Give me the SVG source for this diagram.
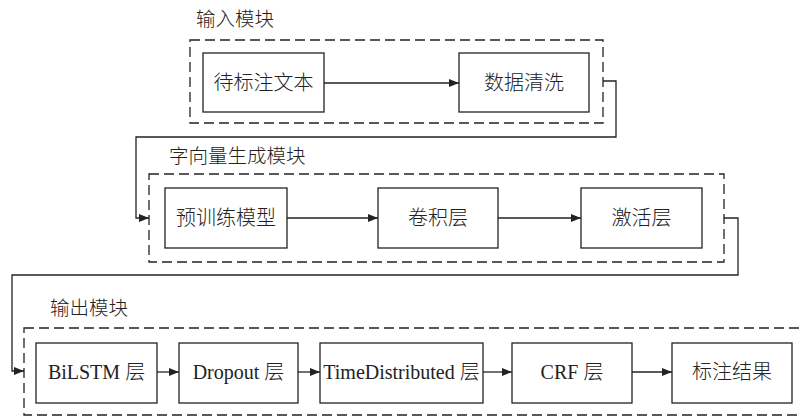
<svg xmlns="http://www.w3.org/2000/svg" width="799" height="416" viewBox="0 0 799 416">
<defs>
<style>
.mod{fill:none;stroke:#222;stroke-width:1.3;stroke-dasharray:10,5}
.box{fill:#fff;stroke:#222;stroke-width:1.3}
.t{font-family:'Noto Sans CJK SC',sans-serif;font-weight:300;font-size:20px;fill:#222;text-anchor:middle}
.lat{font-family:'Liberation Serif','Times New Roman',serif;font-weight:400}
.lbl{font-family:'Noto Sans CJK SC',sans-serif;font-weight:300;font-size:19.5px;fill:#222}
.c{fill:none;stroke:#222;stroke-width:1.3}
</style>
<marker id="ah" viewBox="0 0 10 8" refX="10" refY="4" markerWidth="10" markerHeight="8" markerUnits="userSpaceOnUse" orient="auto">
<path d="M0,0 L10,4 L0,8 Z" fill="#222"/>
</marker>
</defs>
<rect width="799" height="416" fill="#fff"/>

<g id="module-input">
<text class="lbl" x="196" y="26">输入模块</text>
<rect class="mod" x="190" y="40" width="413" height="83"/>
</g>
<g id="module-embed">
<text class="lbl" x="169" y="163">字向量生成模块</text>
<rect class="mod" x="149" y="174" width="575" height="88"/>
</g>
<g id="module-output">
<text class="lbl" x="50" y="315">输出模块</text>
<rect class="mod" x="24" y="328" width="778" height="87"/>
</g>

<g id="connectors">
<path class="c" d="M324,83 H459" marker-end="url(#ah)"/>
<path class="c" d="M603,81 H616 V137 H136 V218 H149" marker-end="url(#ah)"/>
<path class="c" d="M287,218 H378" marker-end="url(#ah)"/>
<path class="c" d="M498,218 H581" marker-end="url(#ah)"/>
<path class="c" d="M724,218 H738 V275 H12 V371 H24" marker-end="url(#ah)"/>
<path class="c" d="M157,372 H179" marker-end="url(#ah)"/>
<path class="c" d="M298,372 H320" marker-end="url(#ah)"/>
<path class="c" d="M483,372 H512" marker-end="url(#ah)"/>
<path class="c" d="M632,372 H672" marker-end="url(#ah)"/>
</g>

<g id="n1"><rect class="box" x="203" y="53" width="121" height="59"/><text class="t" x="263.5" y="90">待标注文本</text></g>
<g id="n2"><rect class="box" x="459" y="53" width="130" height="59"/><text class="t" x="524" y="90">数据清洗</text></g>
<g id="n3"><rect class="box" x="165" y="188" width="122" height="60"/><text class="t" x="226" y="225">预训练模型</text></g>
<g id="n4"><rect class="box" x="378" y="188" width="120" height="60"/><text class="t" x="438" y="225">卷积层</text></g>
<g id="n5"><rect class="box" x="581" y="188" width="121" height="60"/><text class="t" x="641.5" y="225">激活层</text></g>
<g id="n6"><rect class="box" x="36" y="343" width="121" height="60"/><text class="t" x="96.5" y="379"><tspan class="lat">BiLSTM </tspan>层</text></g>
<g id="n7"><rect class="box" x="179" y="343" width="119" height="60"/><text class="t" x="238.5" y="379"><tspan class="lat">Dropout </tspan>层</text></g>
<g id="n8"><rect class="box" x="320" y="343" width="163" height="60"/><text class="t" x="401.5" y="379"><tspan class="lat">TimeDistributed </tspan>层</text></g>
<g id="n9"><rect class="box" x="512" y="343" width="120" height="60"/><text class="t" x="572" y="379"><tspan class="lat">CRF </tspan>层</text></g>
<g id="n10"><rect class="box" x="672" y="343" width="120" height="60"/><text class="t" x="732" y="379">标注结果</text></g>
</svg>
